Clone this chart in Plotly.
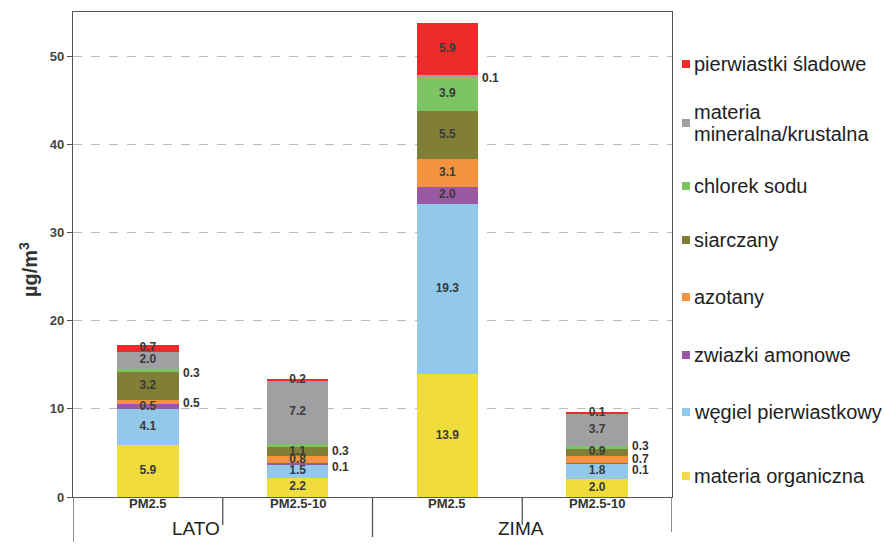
import plotly.graph_objects as go

# --- data (µg/m3) ---
seasons = ["LATO", "ZIMA"]
fractions = ["PM2.5", "PM2.5-10", "PM2.5", "PM2.5-10"]

components = ["materia organiczna", "węgiel pierwiastkowy", "zwiazki amonowe", "azotany",
              "siarczany", "chlorek sodu", "materia mineralna/krustalna", "pierwiastki śladowe"]
organiczna = [5.9, 2.2, 13.9, 2.0]
wegiel = [4.1, 1.5, 19.3, 1.8]
amonowe = [0.5, 0.1, 2.0, 0.1]
azotany = [0.5, 0.8, 3.1, 0.7]
siarczany = [3.2, 1.1, 5.5, 0.9]
chlorek = [0.3, 0.3, 3.9, 0.3]
mineralna = [2.0, 7.2, 0.1, 3.7]
sladowe = [0.7, 0.2, 5.9, 0.1]
series = [organiczna, wegiel, amonowe, azotany, siarczany, chlorek, mineralna, sladowe]

# legend text lines (the mineral entry wraps onto two lines)
legend_lines = [["materia organiczna"], ["węgiel pierwiastkowy"], ["zwiazki amonowe"], ["azotany"],
                ["siarczany"], ["chlorek sodu"], ["materia", "mineralna/krustalna"],
                ["pierwiastki śladowe"]]
colors = ["#F1DC3E", "#92C9E8", "#9A57A3", "#F5923E", "#817E36", "#7CC464", "#A0A0A2", "#EE2A2A"]

# labels drawn beside the bar instead of inside: (series idx, bar idx) -> yshift px
outside = {(5, 0): -3, (3, 0): -1, (5, 1): -6, (2, 1): -3, (6, 2): -2,
           (5, 3): 1, (3, 3): 1, (2, 3): -7}

# layout in pixels
W, H = 885, 552
L, R, T, B = 73, 672, 12, 497
def px_x(X):
    return (X - L) / (R - L)
def px_y(Y):
    return (B - Y) / (B - T)

FONT = "Liberation Sans, Arial, sans-serif"
xs = list(range(len(fractions)))
bw = 0.41

fig = go.Figure()
for vals, name, col in zip(series, components, colors):
    fig.add_trace(go.Bar(x=xs, y=vals, name=name, width=bw, marker_color=col,
                         marker_line_width=0, showlegend=False, hoverinfo="skip"))

# segment labels
in_x, in_y, in_t = [], [], []
ann = []
base = [0.0] * len(xs)
for si, vals in enumerate(series):
    for bi, v in enumerate(vals):
        mid = base[bi] + v / 2
        if (si, bi) in outside:
            ann.append(dict(x=bi + bw / 2, y=mid, xref="x", yref="y", text=f"{v:.1f}",
                            showarrow=False, xanchor="left", xshift=2, yshift=outside[(si, bi)],
                            font=dict(family=FONT, size=12, color="#333333", weight="bold")))
        else:
            in_x.append(bi); in_y.append(mid); in_t.append(f"{v:.1f}")
        base[bi] += v

fig.add_trace(go.Scatter(x=in_x, y=in_y, text=in_t, mode="text", showlegend=False,
                         hoverinfo="skip",
                         textfont=dict(family=FONT, size=12, color="#3a3a3a", weight="bold")))

# category labels under the axis
for bi, f in enumerate(fractions):
    ann.append(dict(x=bi, y=px_y(513), xref="x", yref="paper", text=f, showarrow=False,
                    font=dict(family=FONT, size=13, color="#333333", weight="bold")))
for s, xpos in zip(seasons, [0.32, 2.49]):
    ann.append(dict(x=xpos, y=px_y(541), xref="x", yref="paper", text=s, showarrow=False,
                    font=dict(family=FONT, size=19, color="#222222")))

# y title
ann.append(dict(x=px_x(28), y=px_y(270), xref="paper", yref="paper", text="µg/m<sup>3</sup>",
                showarrow=False, textangle=-90, xanchor="center", yanchor="middle",
                font=dict(family=FONT, size=20, color="#333333", weight="bold")))

# legend (manual, top to bottom)
shapes = []
leg_y = {7: 64, 6: 123, 5: 186, 4: 240, 3: 297, 2: 355, 1: 412, 0: 476}
for si, Y in leg_y.items():
    shapes.append(dict(type="rect", xref="paper", yref="paper",
                       x0=px_x(682), x1=px_x(690), y0=px_y(Y + 4), y1=px_y(Y - 4),
                       fillcolor=colors[si], line_width=0))
    lines = legend_lines[si]
    offs = [0] if len(lines) == 1 else [-11, 11]
    for txt, o in zip(lines, offs):
        ann.append(dict(x=px_x(692), y=px_y(Y + o), xref="paper", yref="paper",
                        text=txt, showarrow=False, xanchor="left", yanchor="middle",
                        font=dict(family=FONT, size=20, color="#222222")))

# divider lines of the category table
line = dict(color="#555555", width=1.3)
for xd, Yend in [(-0.5, 542), (0.5, 525), (1.5, 537), (2.5, 525), (3.5, 532)]:
    shapes.append(dict(type="line", xref="x", yref="paper", x0=xd, x1=xd,
                       y0=0, y1=px_y(Yend), line=line))

fig.update_layout(
    width=W, height=H,
    margin=dict(l=L, r=W - R, t=T, b=H - B, autoexpand=False),
    plot_bgcolor="white", paper_bgcolor="white",
    barmode="stack", bargap=0,
    annotations=ann, shapes=shapes,
    xaxis=dict(range=[-0.5, 3.5], showticklabels=False, showgrid=False, zeroline=False,
               showline=True, linecolor="#555555", linewidth=1.3, mirror=True,
               fixedrange=True, automargin=False),
    yaxis=dict(range=[0, 55], tickvals=[0, 10, 20, 30, 40, 50], showgrid=True,
               gridcolor="#BDBDBD", griddash="dash", gridwidth=1, zeroline=False,
               showline=True, linecolor="#555555", linewidth=1.3, mirror=True,
               ticks="outside", ticklen=5, tickcolor="#555555", automargin=False,
               tickfont=dict(family=FONT, size=13, color="#444444", weight="bold")),
)

# page body has a default margin; drop it so the figure sits at the window corner
fig.write_html("out.html", config={"displayModeBar": False},
               post_script="document.body.style.margin='0';")
